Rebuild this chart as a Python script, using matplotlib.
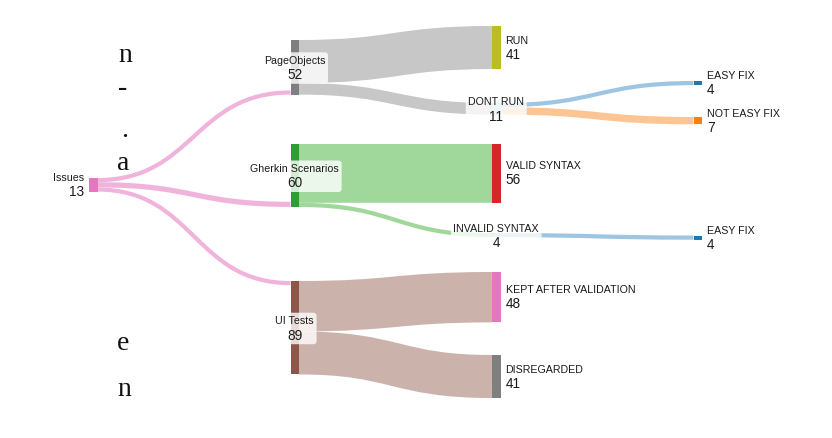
import matplotlib
matplotlib.use("Agg")
import matplotlib.pyplot as plt
from matplotlib.patches import Rectangle, FancyBboxPatch, PathPatch
from matplotlib.path import Path

# ---------------- data ----------------
node_names = ["Issues", "PageObjects", "Gherkin Scenarios", "UI Tests",
              "RUN", "DONT RUN", "VALID SYNTAX", "INVALID SYNTAX",
              "KEPT AFTER VALIDATION", "DISREGARDED",
              "EASY FIX", "NOT EASY FIX", "EASY FIX"]
node_values = [13, 52, 60, 89, 41, 11, 56, 4, 48, 41, 4, 7, 4]

link_source = [0, 0, 0, 1, 1, 2, 2, 3, 3, 5, 5, 7]
link_target = [1, 2, 3, 4, 5, 6, 7, 8, 9, 10, 11, 12]
link_values = [4, 5, 4, 41, 11, 56, 4, 48, 41, 4, 7, 4]

margin_fragments = ["n", "-", ".", "a", "e", "n"]

# ---------------- layout / style ----------------
W, H, DPI = 832, 439, 100
K = 1.05                      # px per unit
NODE_W = 8.5
COL_X0, COL_DX = 89, 201.5
node_column = [0, 1, 1, 1, 2, 2, 2, 2, 2, 2, 3, 3, 3]
node_top = [179, 41, 145, 282, 27, 104, 145, 234, 273, 356, 82, 118, 236.5]
in_anchor = {1: "bottom", 2: "bottom", 3: "top"}
node_colors = ["#e377c2", "#7f7f7f", "#2ca02c", "#8c564b", "#bcbd22", "#9edae5",
               "#d62728", "#c5b0d5", "#e377c2", "#7f7f7f", "#1f77b4", "#ff7f0e", "#1f77b4"]
link_colors = ["#f0b4dc"] * 3 + ["#c7c7c7"] * 2 + ["#9fd89a"] * 2 + \
              ["#cbb3ab"] * 2 + ["#9ec6e2", "#fdc594", "#9ec6e2"]
frag_pos = [(118, 62), (118, 95), (121, 137), (117, 170), (117, 350), (117, 396)]

TXT = "#1a1a1a"
NAME_FS, NUM_FS = 7.7, 9.8
plt.rcParams["font.family"] = ["Liberation Sans", "DejaVu Sans"]

fig = plt.figure(figsize=(W / DPI, H / DPI), dpi=DPI)
ax = fig.add_axes([0, 0, 1, 1])
ax.set_xlim(0, W)
ax.set_ylim(H, 0)
ax.axis("off")

def nx(i):
    return COL_X0 + COL_DX * node_column[i]

# link stacking
src_off = {i: 0.0 for i in range(len(node_names))}
tgt_off = {}
for i in range(len(node_names)):
    inc = sum(v for s, t, v in zip(link_source, link_target, link_values) if t == i)
    if in_anchor.get(i, "top") == "bottom":
        tgt_off[i] = (node_values[i] - inc) * K
    else:
        tgt_off[i] = 0.0

for s, t, v, c in zip(link_source, link_target, link_values, link_colors):
    w = v * K
    ys = node_top[s] + src_off[s] + w / 2
    yt = node_top[t] + tgt_off[t] + w / 2
    src_off[s] += w
    tgt_off[t] += w
    xs = nx(s) + NODE_W
    xt = nx(t)
    xm = (xs + xt) / 2
    path = Path([(xs, ys), (xm, ys), (xm, yt), (xt, yt)],
                [Path.MOVETO, Path.CURVE4, Path.CURVE4, Path.CURVE4])
    ax.add_patch(PathPatch(path, fill=False, edgecolor=c, lw=w * 72 / DPI,
                           capstyle="butt", zorder=1))

# nodes
for i, v in enumerate(node_values):
    ax.add_patch(Rectangle((nx(i), node_top[i]), NODE_W, v * K,
                           facecolor=node_colors[i], edgecolor="none", zorder=2))

has_out = set(link_source)
has_in = set(link_target)
boxed = []
for i, (name, v) in enumerate(zip(node_names, node_values)):
    cy = node_top[i] + v * K / 2
    if i not in has_in:
        x = nx(i) - 5
        ax.text(x, cy - 7.5, name, ha="right", va="center", fontsize=NAME_FS, color=TXT, zorder=5)
        ax.text(x, cy + 6.5, str(v), ha="right", va="center", fontsize=NUM_FS, color=TXT, zorder=5)
    elif i in has_out:
        x = nx(i) + NODE_W / 2
        t1 = ax.text(x, cy - 7.5, name, ha="center", va="center", fontsize=NAME_FS, color=TXT, zorder=5)
        t2 = ax.text(x, cy + 7, str(v), ha="center", va="center", fontsize=NUM_FS, color=TXT, zorder=5)
        boxed.append((t1, t2))
    else:
        x = nx(i) + NODE_W + 5
        ax.text(x, cy - 8, name, ha="left", va="center", fontsize=NAME_FS, color=TXT, zorder=5)
        ax.text(x, cy + 6, str(v), ha="left", va="center", fontsize=NUM_FS, color=TXT, zorder=5)

fig.canvas.draw()
r = fig.canvas.get_renderer()
inv = ax.transData.inverted()
for t1, t2 in boxed:
    b1 = t1.get_window_extent(r)
    b2 = t2.get_window_extent(r)
    x0 = min(b1.x0, b2.x0); x1 = max(b1.x1, b2.x1)
    y0 = min(b1.y0, b2.y0); y1 = max(b1.y1, b2.y1)
    (dx0, dy0) = inv.transform((x0, y0))
    (dx1, dy1) = inv.transform((x1, y1))
    top, bot = min(dy0, dy1), max(dy0, dy1)
    ax.add_patch(FancyBboxPatch((dx0 - 1, top - 1), (dx1 - dx0) + 2, (bot - top) + 2,
                                boxstyle="round,pad=1.5,rounding_size=3",
                                facecolor="white", edgecolor="none", alpha=0.8, zorder=3))

for ch, (x, y) in zip(margin_fragments, frag_pos):
    ax.text(x, y, ch, ha="left", va="baseline", fontsize=20,
            family=["Liberation Serif", "DejaVu Serif"], color="#111111")

fig.savefig("out.png", dpi=DPI)
